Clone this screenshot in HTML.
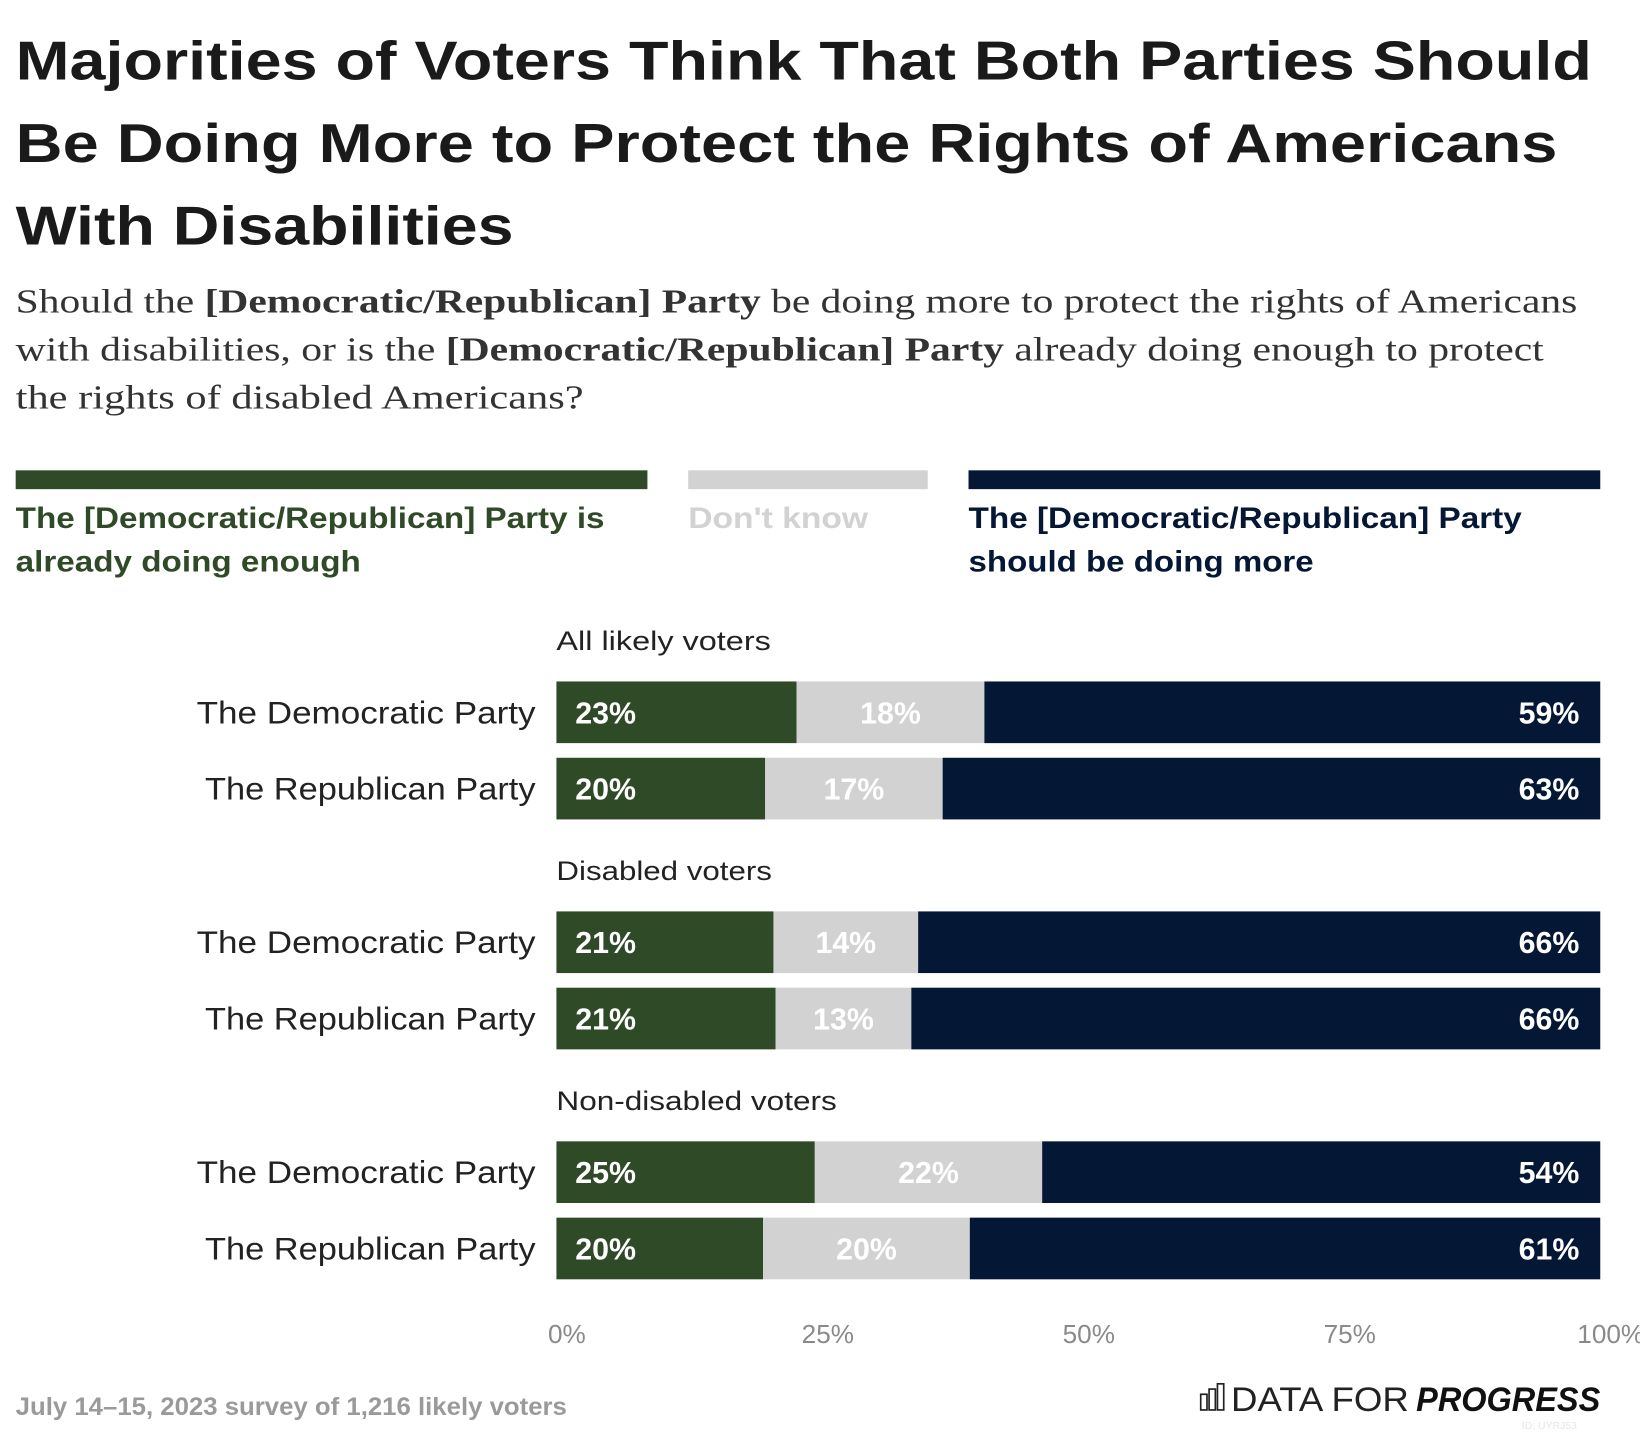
<!DOCTYPE html>
<html><head><meta charset="utf-8"><style>
html,body{margin:0;padding:0;background:#fff;}
svg{display:block;}
text{font-family:"Liberation Sans",sans-serif;}
.serif{font-family:"Liberation Serif",serif;}
</style></head><body>
<svg id="chart" width="1640" height="1434" viewBox="0 0 1568 1372" preserveAspectRatio="none" xmlns="http://www.w3.org/2000/svg">
<g font-weight="bold" font-size="52" fill="#1a1a1a">
<text x="15" y="76" textLength="1507" lengthAdjust="spacingAndGlyphs">Majorities of Voters Think That Both Parties Should</text>
<text x="15" y="155" textLength="1474" lengthAdjust="spacingAndGlyphs">Be Doing More to Protect the Rights of Americans</text>
<text x="15" y="234" textLength="476" lengthAdjust="spacingAndGlyphs">With Disabilities</text>
</g>
<g class="serif" font-size="32" fill="#333">
<text class="serif" x="15" y="299" textLength="1493" lengthAdjust="spacingAndGlyphs">Should the <tspan font-weight="bold">[Democratic/Republican] Party</tspan> be doing more to protect the rights of Americans</text>
<text class="serif" x="15" y="345" textLength="1461" lengthAdjust="spacingAndGlyphs">with disabilities, or is the <tspan font-weight="bold">[Democratic/Republican] Party</tspan> already doing enough to protect</text>
<text class="serif" x="15" y="391" textLength="543" lengthAdjust="spacingAndGlyphs">the rights of disabled Americans?</text>
</g>
<g font-weight="bold" font-size="28">
<rect x="15" y="450" width="604" height="18" fill="#2f4a27"/>
<text fill="#2f4a27"><tspan x="15" y="505" textLength="563" lengthAdjust="spacingAndGlyphs">The [Democratic/Republican] Party is</tspan><tspan x="15" y="547" textLength="330" lengthAdjust="spacingAndGlyphs">already doing enough</tspan></text>
<rect x="658" y="450" width="229" height="18" fill="#d2d2d2"/>
<text fill="#d2d2d2" x="658" y="505" textLength="172" lengthAdjust="spacingAndGlyphs">Don't know</text>
<rect x="926" y="450" width="604" height="18" fill="#041735"/>
<text fill="#041735"><tspan x="926" y="505" textLength="529" lengthAdjust="spacingAndGlyphs">The [Democratic/Republican] Party</tspan><tspan x="926" y="547" textLength="330" lengthAdjust="spacingAndGlyphs">should be doing more</tspan></text>
</g>
<g id="plot"></g>
<text x="15" y="1354" font-size="24" font-weight="bold" fill="#9a9a9a" textLength="527" lengthAdjust="spacingAndGlyphs">July 14–15, 2023 survey of 1,216 likely voters</text>
<g>
<g fill="none" stroke="#222" stroke-width="1.6">
<rect x="1148" y="1334" width="6" height="15"/><rect x="1156" y="1329" width="6" height="20"/><rect x="1164" y="1324" width="6" height="25"/>
</g>
<text x="1177" y="1350" font-size="33" fill="#222" textLength="170" lengthAdjust="spacingAndGlyphs">DATA FOR</text>
<text x="1354" y="1350" font-size="33" font-weight="bold" font-style="italic" fill="#111" textLength="176" lengthAdjust="spacingAndGlyphs">PROGRESS</text>
<text x="1455" y="1367" font-size="10" fill="#e6e6e6">ID: UYRJ53</text>
</g>
</svg>
<script>
const groups = ["All likely voters","Disabled voters","Non-disabled voters"];
const rowLabels = ["The Democratic Party","The Republican Party"];
const enough = [23,20,21,21,25,20];
const dontKnow = [18,17,14,13,22,20];
const more = [59,63,66,66,54,61];
const ticks = [0,25,50,75,100];
const NS="http://www.w3.org/2000/svg";
const plot=document.getElementById('plot');
const X0=532,X1=1530;
const xs=v=>X0+(X1-X0)*v/100;
const groupLen=[205,206,268];
const rowLen=[324,316];
function mk(t,a,p){const e=document.createElementNS(NS,t);for(const k in a)e.setAttribute(k,a[k]);(p||plot).appendChild(e);return e;}
const colors=["#2f4a27","#d2d2d2","#041735"];
for(let g=0;g<groups.length;g++){
  const gy=652+g*220;
  const gl=mk('text',{x:532,y:gy-30,'font-size':26,fill:'#222',textLength:groupLen[g],lengthAdjust:'spacingAndGlyphs'});gl.textContent=groups[g];
  
  
  for(let r=0;r<2;r++){
    const i=g*2+r,y=gy+r*73,h=59;
    const lab=mk('text',{x:512-rowLen[r],y:y+40,'font-size':30,fill:'#222',textLength:rowLen[r],lengthAdjust:'spacingAndGlyphs'});lab.textContent=rowLabels[r];
    
    
    const vals=[enough[i],dontKnow[i],more[i]];const tot=vals[0]+vals[1]+vals[2];
    let c=0;
    for(let s=0;s<3;s++){
      const xa=xs(c/tot*100);c+=vals[s];const xb=xs(c/tot*100);
      const rect=mk('rect',{x:xa,y:y,width:xb-xa,height:h,fill:colors[s]});
      
      
      let tx,anchor;
      if(s==0){tx=xa+18;anchor='start';}else if(s==1){tx=(xa+xb)/2;anchor='middle';}else{tx=xb-20;anchor='end';}
      const t=mk('text',{x:tx,y:y+40,'font-size':29,'font-weight':'bold',fill:'#fff','text-anchor':anchor});t.textContent=vals[s]+'%';
      
      
    }
  }
}
ticks.forEach(v=>{
  const t=mk('text',{x:Math.min(xs(v)+10,1545),y:1285,'font-size':25,fill:'#8a8a8a','text-anchor':'middle'});t.textContent=v+'%';
  
  
});
</script>
</body></html>
